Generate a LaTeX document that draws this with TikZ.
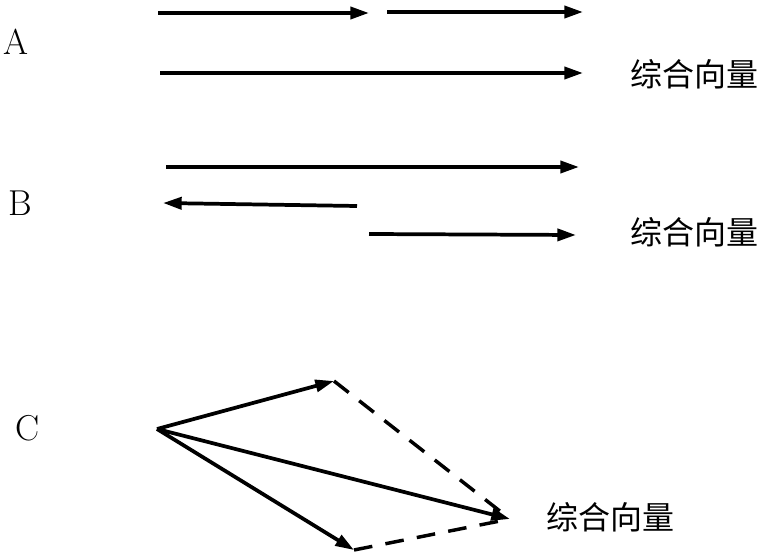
\documentclass[tikz,border=0pt]{standalone}
\usepackage{fontspec}
\newfontfamily\cjk{Noto Sans CJK SC}
\usetikzlibrary{arrows.meta}

\tikzset{
  vec/.style={line width=2.8pt, -{Triangle[length=14pt,width=9pt]}},
  para/.style={line width=2.6pt, dash pattern=on 14pt off 10pt},
  lbl/.style={font=\fontsize{27}{30}\selectfont},
  res/.style={font=\cjk\fontsize{24}{28}\selectfont},
}

\begin{document}
\begin{tikzpicture}[x=0.75pt, y=-0.75pt]
  \useasboundingbox (0,0) rectangle (762,555);

  % Define points
  \coordinate (a1) at (158,13);
  \coordinate (a2) at (369,13);
  \coordinate (a3) at (387,12);
  \coordinate (a4) at (583,12);
  \coordinate (ar) at (160,73);
  \coordinate (ae) at (583,73);

  \coordinate (b1) at (166,167);
  \coordinate (b2) at (579,167);
  \coordinate (b3) at (357,206);
  \coordinate (b4) at (163,203);
  \coordinate (br) at (369,234);
  \coordinate (be) at (576,235);

  \coordinate (o)  at (157,429);
  \coordinate (p)  at (334,381);
  \coordinate (q)  at (354,550);
  \coordinate (r)  at (510,519);

  % Labels
  \node[lbl] (A) at (16,42)  {A};
  \node[lbl] (B) at (20,203) {B};
  \node[lbl] (C) at (28,428) {C};
  \node[res] (ra) at (694,74)  {综合向量};
  \node[res] (rb) at (694,232) {综合向量};
  \node[res] (rc) at (610,517) {综合向量};

  % Connect the points
  \draw[vec] (a1) -- (a2);
  \draw[vec] (a3) -- (a4);
  \draw[vec] (ar) -- (ae);

  \draw[vec] (b1) -- (b2);
  \draw[vec] (b3) -- (b4);
  \draw[vec] (br) -- (be);

  \draw[vec] (o) -- (p);
  \draw[vec] (o) -- (q);
  \draw[vec] (o) -- (r);

  % Parallelogram sides
  \draw[para] (p) -- (r);
  \draw[para] (q) -- (r);

\end{tikzpicture}
\end{document}
